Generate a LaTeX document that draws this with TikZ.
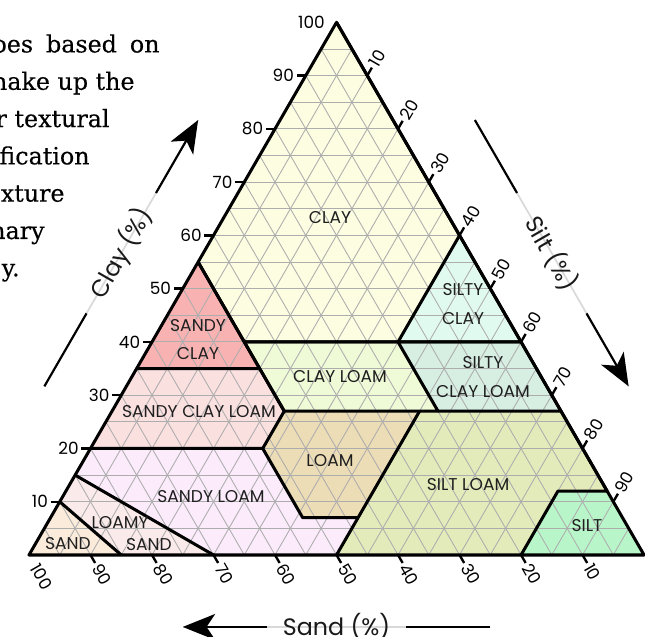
\documentclass[tikz,border=0pt]{standalone}
\usepackage{fontspec}
\setmainfont{Poppins}
\newfontfamily\pageserif[FakeBold=0.3]{DejaVu Serif}
\usepackage{xcolor}
\usetikzlibrary{arrows.meta}
\definecolor{claycol}{HTML}{FDFDE2}
\definecolor{siltyclaycol}{HTML}{E1FAEF}
\definecolor{sandyclaycol}{HTML}{F9B2B2}
\definecolor{clayloamcol}{HTML}{EFFAD7}
\definecolor{siltyclayloamcol}{HTML}{D7EEE2}
\definecolor{sandyclayloamcol}{HTML}{FBE0E0}
\definecolor{loamcol}{HTML}{EDDDB6}
\definecolor{siltloamcol}{HTML}{E3EBBA}
\definecolor{siltcol}{HTML}{B8F6CA}
\definecolor{sandyloamcol}{HTML}{FBEBFB}
\definecolor{loamysandcol}{HTML}{FBEAEA}
\definecolor{sandcol}{HTML}{FBEBDB}
\tikzset{region/.style={draw=black, line width=1.4pt, line join=round},
 gridline/.style={draw=black!32, line width=0.4pt},
 axistick/.style={draw=black, line width=1.1pt},
 ticklabel/.style={font=\fontsize{7.8}{8}\selectfont, inner sep=1pt},
 zonelabel/.style={font=\fontsize{7.9}{13}\selectfont, text=black!88, align=center},
 axislabel/.style={font=\fontsize{11}{12}\selectfont, text=black!90},
 axisline/.style={draw=black, line width=1pt},
 axisarrow/.style={axisline, -{Stealth[length=15pt, width=12pt, inset=4pt]}},
 halo/.style={draw=black!15, line width=0.8pt},
 sidetext/.style={anchor=base east, inner sep=0pt, text=black,
   font=\pageserif\fontsize{11}{14}\selectfont},
 }

\begin{document}
\begin{tikzpicture}
    \path[use as bounding box] (-0.4715,-1.333) rectangle (10.016,9.024);
    \clip (-0.4715,-1.333) rectangle (10.016,9.024);
    \node[sidetext] (line1) at (2.13,8.171) {pes\hspace{6pt}based\hspace{6pt}on};
    \node[sidetext] (line2) at (1.724,7.564) {nake up the};
    \node[sidetext] (line3) at (1.317,6.958) {r textural};
    \node[sidetext] (line4) at (0.992,6.351) {fication};
    \node[sidetext] (line5) at (0.585,5.745) {exture};
    \node[sidetext] (line6) at (0.260,5.138) {nary};
    \node[sidetext] (line7) at (-0.146,4.532) {y.};
    \begin{scope}[x={(0.1cm,0cm)}, y={(0.05cm,0.0866025cm)}]
        \fill[claycol] (0,100) -- (40,60) -- (40,40) -- (15,40) -- (0,55) -- cycle;
        \fill[siltyclaycol] (40,60) -- (60,40) -- (40,40) -- cycle;
        \fill[sandyclaycol] (0,55) -- (20,35) -- (0,35) -- cycle;
        \fill[clayloamcol] (15,40) -- (40,40) -- (53,27) -- (28,27) -- cycle;
        \fill[siltyclayloamcol] (40,40) -- (60,40) -- (73,27) -- (53,27) -- cycle;
        \fill[sandyclayloamcol] (0,35) -- (20,35) -- (28,27) -- (28,20) -- (0,20) -- cycle;
        \fill[loamcol] (28,27) -- (50,27) -- (50,7) -- (41,7) -- (28,20) -- cycle;
        \fill[siltloamcol] (50,27) -- (73,27) -- (88,12) -- (80,12) -- (80,0) -- (50,0) -- cycle;
        \fill[siltcol] (80,12) -- (88,12) -- (100,0) -- (80,0) -- cycle;
        \fill[sandyloamcol] (0,20) -- (28,20) -- (41,7) -- (50,7) -- (50,0) -- (30,0) -- (0,15) -- cycle;
        \fill[loamysandcol] (0,15) -- (30,0) -- (15,0) -- (0,10) -- cycle;
        \fill[sandcol] (0,10) -- (15,0) -- (0,0) -- cycle;
        \foreach \i in {5,10,...,95} {
            \draw[gridline] (0,\i) -- (100-\i,\i);
            \draw[gridline] (\i,0) -- (\i,100-\i);
            \draw[gridline] (\i,0) -- (0,\i);
        }
        \draw[region] (0,100) -- (40,60) -- (40,40) -- (15,40) -- (0,55);
        \draw[region] (40,60) -- (60,40) -- (40,40);
        \draw[region] (0,55) -- (20,35) -- (0,35);
        \draw[region] (15,40) -- (40,40) -- (53,27) -- (28,27) -- cycle;
        \draw[region] (40,40) -- (60,40) -- (73,27) -- (53,27);
        \draw[region] (20,35) -- (28,27) -- (28,20) -- (0,20);
        \draw[region] (50,27) -- (50,0);
        \draw[region] (28,20) -- (41,7) -- (50,7);
        \draw[region] (73,27) -- (88,12) -- (80,12) -- (80,0);
        \draw[region] (0,15) -- (30,0);
        \draw[region] (0,10) -- (15,0);
        \draw[region] (0,0) -- (100,0) -- (0,100) -- cycle;
        \foreach \v in {10,20,...,90} {
            \draw[axistick] (0,\v) -- (-1.5,\v);
            \draw[axistick] (\v,0) -- (\v+1.5,-1.5);
            \draw[axistick] (\v,100-\v) -- (\v,101.5-\v);
        }
        \foreach \v in {10,20,...,100}
            \node[ticklabel, anchor=east] (clay\v) at (-1.5,\v) {\v};
        \foreach \v [evaluate=\v as \s using int(100-\v)] in {0,10,...,90}
            \node[ticklabel, anchor=west, rotate=-60] (sand\s) at (\v+1.5,-1.5) {\s};
        \foreach \v in {10,20,...,90}
            \node[ticklabel, anchor=west, rotate=60] (silt\v) at (\v,101.5-\v) {\v};
    \end{scope}
    \node[zonelabel] (clay) at (4.894,5.480) {CLAY};
    \node[zonelabel] (siltyclay) at (7.057,4.081) {SILTY\\CLAY};
    \node[zonelabel] (sandyclay) at (2.748,3.504) {SANDY\\CLAY};
    \node[zonelabel] (clayloam) at (5.057,2.894) {CLAY LOAM};
    \node[zonelabel] (siltyclayloam) at (7.382,2.894) {SILTY\\CLAY LOAM};
    \node[zonelabel] (sandyclayloam) at (2.764,2.325) {SANDY CLAY LOAM};
    \node[zonelabel] (loam) at (4.894,1.528) {LOAM};
    \node[zonelabel] (siltloam) at (7.138,1.138) {SILT LOAM};
    \node[zonelabel] (silt) at (9.073,0.472) {SILT};
    \node[zonelabel] (sandyloam) at (2.959,0.943) {SANDY LOAM};
    \node[zonelabel] (loamy) at (1.480,0.520) {LOAMY};
    \node[zonelabel] (loamysand) at (1.951,0.163) {SAND};
    \node[zonelabel] (sand) at (0.634,0.179) {SAND};
    \coordinate (clayA) at (0.25,2.742);
    \coordinate (clayP) at (0.935,3.928);
    \coordinate (clayQ) at (2.065,5.886);
    \coordinate (clayB) at (2.75,7.072);
    \draw[halo] (clayA) -- (clayB);
    \draw[axisline] (clayA) -- (clayP);
    \draw[axisarrow] (clayQ) -- (clayB);
    \node[axislabel, rotate=60] (claytitle) at (1.5,4.907) {Clay (\%)};
    \coordinate (siltA) at (7.25,7.072);
    \coordinate (siltP) at (7.935,5.886);
    \coordinate (siltQ) at (9.065,3.928);
    \coordinate (siltB) at (9.75,2.742);
    \draw[halo] (siltA) -- (siltB);
    \draw[axisline] (siltA) -- (siltP);
    \draw[axisarrow] (siltQ) -- (siltB);
    \node[axislabel, rotate=-60] (silttitle) at (8.5,4.907) {Silt (\%)};
    \coordinate (sandA) at (7.5,-1.17);
    \coordinate (sandP) at (6.13,-1.17);
    \coordinate (sandQ) at (3.87,-1.17);
    \coordinate (sandB) at (2.5,-1.17);
    \draw[halo] (sandA) -- (sandB);
    \draw[axisline] (sandA) -- (sandP);
    \draw[axisarrow] (sandQ) -- (sandB);
    \node[axislabel] (sandtitle) at (5.0,-1.17) {Sand (\%)};
\end{tikzpicture}
\end{document}
